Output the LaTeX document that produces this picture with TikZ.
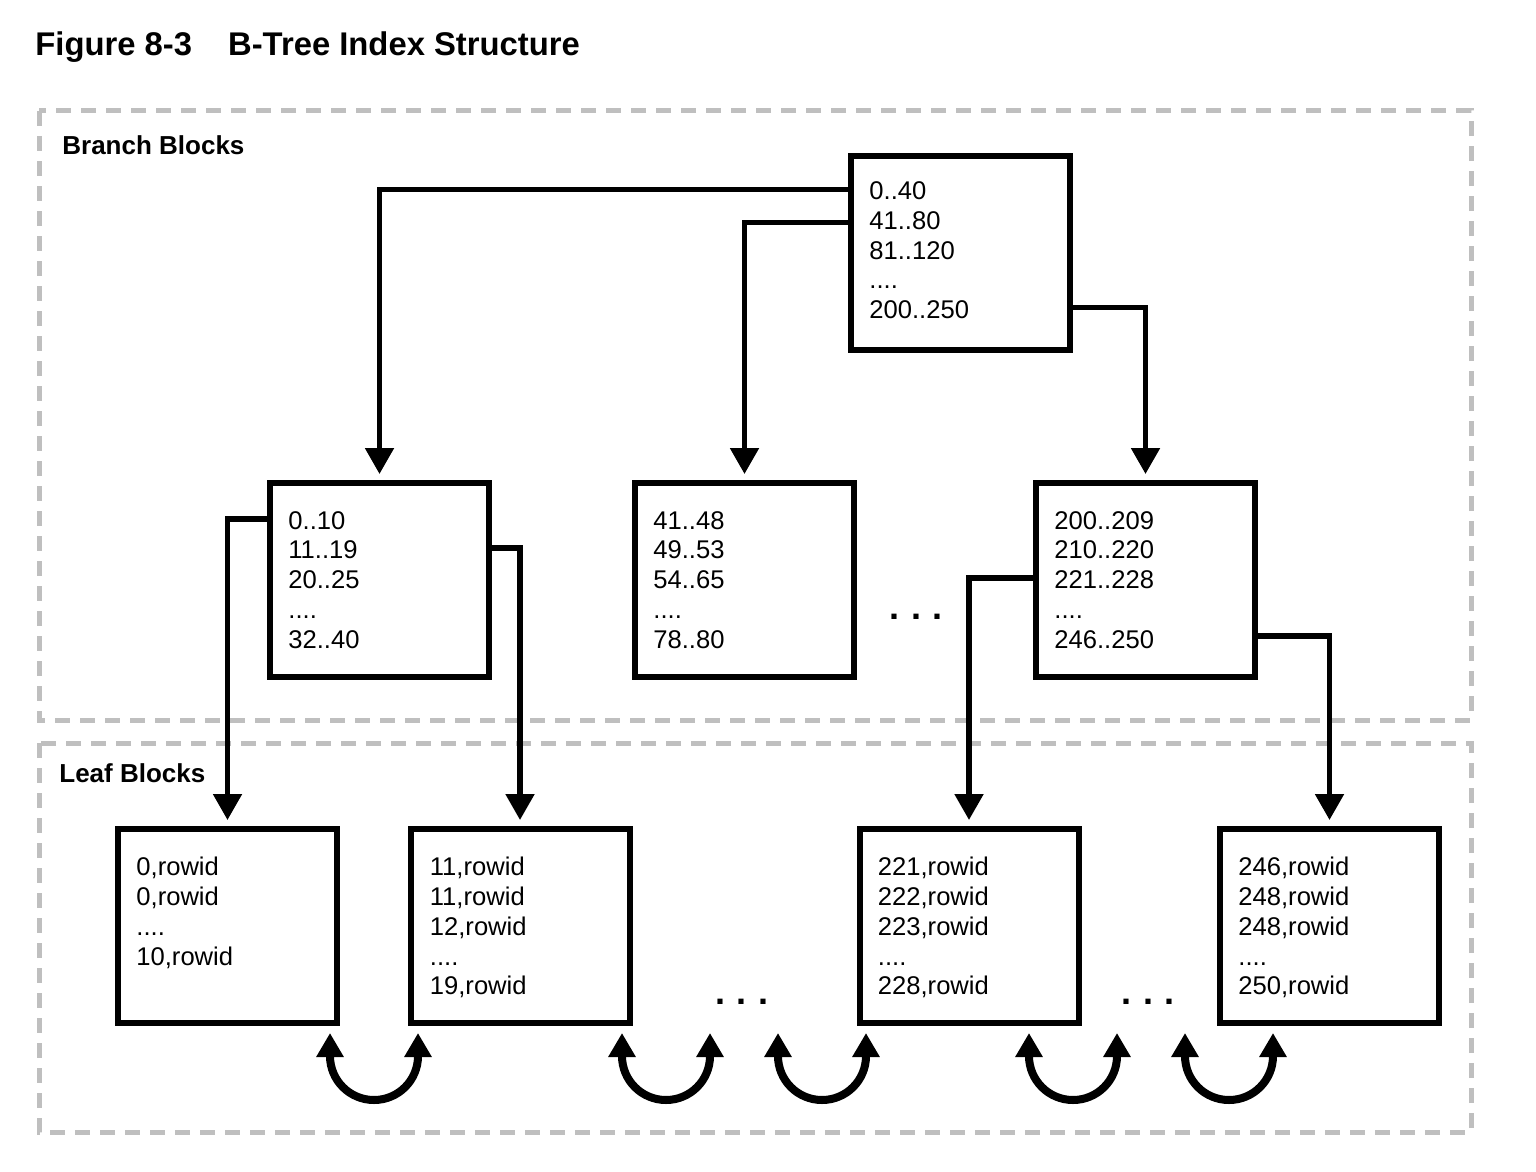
\documentclass[tikz,border=0pt]{standalone}
\usepackage{fontspec}
\setmainfont{Liberation Sans}
\usetikzlibrary{arrows.meta,calc}
\begin{document}
\begin{tikzpicture}[x=0.5pt,y=-0.5pt,
  blk/.style={draw,line width=3pt,minimum width=109.5pt,minimum height=97pt,inner sep=0pt},
  txt/.style={anchor=north west,align=left,inner sep=0pt,font=\fontsize{12.8}{14.85}\selectfont},
  area/.style={draw=black!25,line width=2.5pt,dash pattern=on 7.5pt off 5pt},
  head/.style={anchor=base west,inner sep=0pt,font=\bfseries\fontsize{13}{15}\selectfont},
  link/.style={line width=2.6pt,-{Triangle[width=14pt,length=13pt]},shorten >=3pt},
  swap/.style={line width=4pt,{Triangle[width=13pt,length=12pt]}-{Triangle[width=13pt,length=12pt]}},
  dots/.style={inner sep=0pt,font=\bfseries\fontsize{18}{20}\selectfont}]
\def\gap{\hspace{5.75pt}}
\useasboundingbox (0,0) rectangle (1536,1172);

\node[anchor=base west,inner sep=0pt,font=\bfseries\fontsize{16.4}{19}\selectfont] (title) at (35,56)
  {Figure 8-3\hspace{18pt}B-Tree Index Structure};

\draw[area] (39,111) rectangle (1471,720);
\draw[area] (39,743) rectangle (1471,1132);
\node[head] (branch) at (62,155) {Branch Blocks};
\node[head] (leaf) at (59,782) {Leaf Blocks};

\node[blk] (root) at (960.5,252.5) {};
\node[blk] (b1) at (379.5,580) {};
\node[blk] (b2) at (744.5,580) {};
\node[blk] (b3) at (1145.5,580) {};
\node[blk] (l1) at (227.5,926) {};
\node[blk] (l2) at (520,926) {};
\node[blk] (l3) at (969,926) {};
\node[blk] (l4) at (1329.5,926) {};

\node[txt] (troot) at ($(root.north west)+(21,29)$) {0..40\\41..80\\81..120\\....\\200..250};
\node[txt] (tb1) at ($(b1.north west)+(21,31)$) {0..10\\11..19\\20..25\\....\\32..40};
\node[txt] (tb2) at ($(b2.north west)+(21,31)$) {41..48\\49..53\\54..65\\....\\78..80};
\node[txt] (tb3) at ($(b3.north west)+(21,31)$) {200..209\\210..220\\221..228\\....\\246..250};
\node[txt] (tl1) at ($(l1.north west)+(21,31)$) {0,rowid\\0,rowid\\....\\10,rowid};
\node[txt] (tl2) at ($(l2.north west)+(22,31)$) {11,rowid\\11,rowid\\12,rowid\\....\\19,rowid};
\node[txt] (tl3) at ($(l3.north west)+(21,31)$) {221,rowid\\222,rowid\\223,rowid\\....\\228,rowid};
\node[txt] (tl4) at ($(l4.north west)+(21,31)$) {246,rowid\\248,rowid\\248,rowid\\....\\250,rowid};

\node[dots] (dbranch) at (916,617) {.\gap.\gap.};
\node[dots] (dleaf1) at (742,1002) {.\gap.\gap.};
\node[dots] (dleaf2) at (1148,1002) {.\gap.\gap.};

\draw[link] ($(root.north west)+(0,37)$) -| (b1.north);
\draw[link] ($(root.north west)+(0,70)$) -| (b2.north);
\draw[link] ($(root.north east)+(0,155)$) -| (b3.north);
\draw[link] ($(b1.north west)+(0,39)$) -| (l1.north);
\draw[link] ($(b1.north east)+(0,68)$) -| (l2.north);
\draw[link] ($(b3.north west)+(0,98)$) -| (l3.north);
\draw[link] ($(b3.north east)+(0,156)$) -| (l4.north);

\foreach \a in {330,622,778,1029,1185}{
\draw[swap] (\a,1033) -- (\a,1056) arc[start angle=180,end angle=360,radius=22pt] -- (\a+88,1033);
}
\end{tikzpicture}
\end{document}
